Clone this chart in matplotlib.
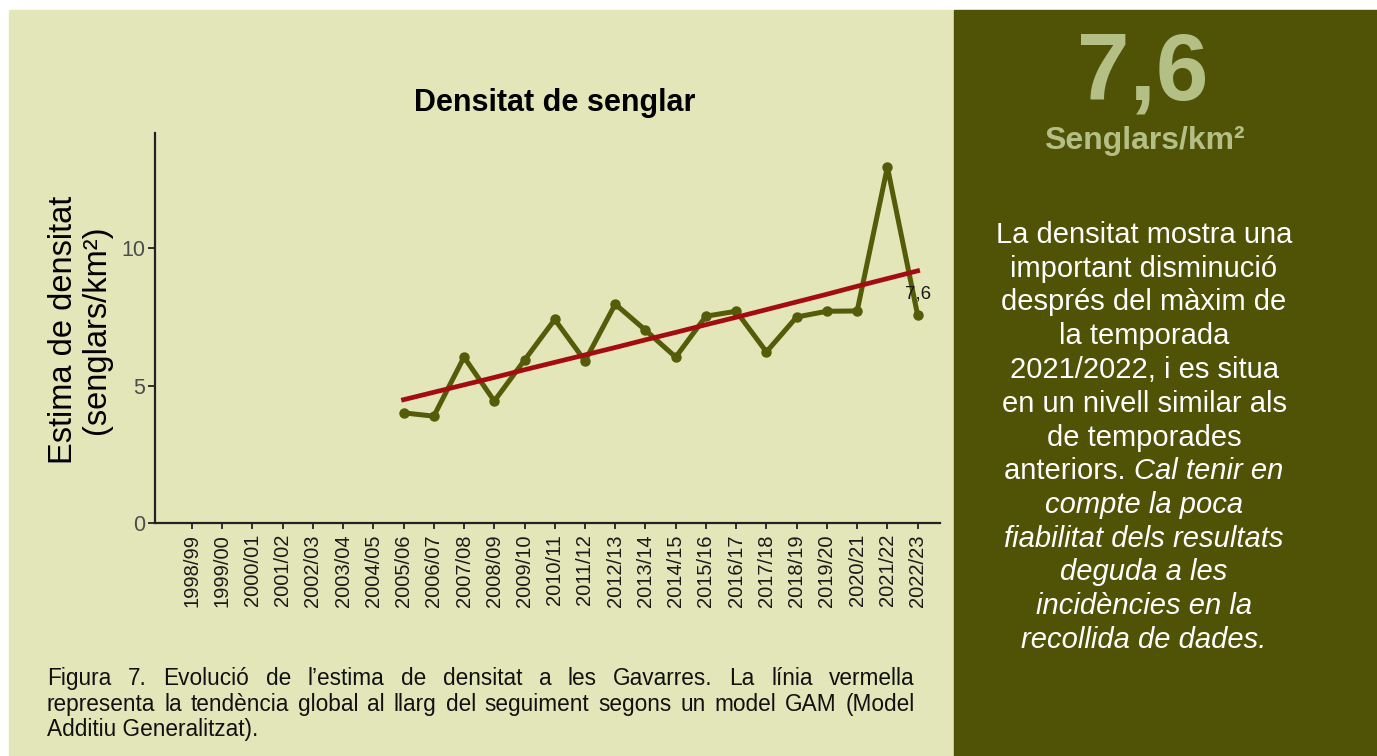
import numpy as np
import matplotlib.pyplot as plt
from matplotlib.patches import Rectangle

plt.rcParams['font.family'] = ['Liberation Sans', 'DejaVu Sans']

# temporades (eix x)
seasons = ['1998/99', '1999/00', '2000/01', '2001/02', '2002/03', '2003/04',
           '2004/05', '2005/06', '2006/07', '2007/08', '2008/09', '2009/10',
           '2010/11', '2011/12', '2012/13', '2013/14', '2014/15', '2015/16',
           '2016/17', '2017/18', '2018/19', '2019/20', '2020/21', '2021/22',
           '2022/23']
# densitat estimada (des de 2005/06)
data_seasons = seasons[7:]
density = [4.01, 3.89, 6.04, 4.44, 5.93, 7.41, 5.90, 7.97, 7.02, 6.04,
           7.53, 7.71, 6.23, 7.50, 7.71, 7.72, 12.96, 7.57]
# tendencia GAM
trend = [4.49, 4.76, 5.03, 5.30, 5.58, 5.85, 6.12, 6.39, 6.67, 6.94,
         7.22, 7.49, 7.77, 8.05, 8.33, 8.62, 8.90, 9.18]
last_label = '7,6'

LIGHT = '#e3e6b9'
DARK = '#505205'
OLIVE = '#555c09'
RED = '#a30d12'

W, H = 1377, 756
fig = plt.figure(figsize=(W / 100, H / 100), dpi=100, facecolor='white')

# panells de fons
fig.add_artist(Rectangle((9 / W, 0), (954 - 9) / W, (H - 10) / H,
                         transform=fig.transFigure, color=LIGHT, zorder=0))
fig.add_artist(Rectangle((954 / W, 0), (W - 954) / W, (H - 10) / H,
                         transform=fig.transFigure, color=DARK, zorder=0))

ax = fig.add_axes([155 / W, 1 - 523 / H, (940 - 155) / W, (523 - 133) / H])
ax.set_zorder(1)
ax.patch.set_alpha(0)

x_all = np.arange(len(seasons))
x_data = np.array([seasons.index(s) for s in data_seasons])

ax.plot(x_data, density, color=OLIVE, lw=3.6, marker='o', ms=6.5,
        solid_joinstyle='round', solid_capstyle='round')
ax.plot(x_data, trend, color=RED, lw=3.4)
ax.annotate(last_label, (x_data[-1], density[-1]), xytext=(0, 15),
            textcoords='offset points', ha='center', va='center',
            fontsize=13.5, color='#1a1a1a')

ax.set_xlim(-1.22, 24.74)
ax.set_ylim(0, 14.2)
ax.set_xticks(x_all)
ax.set_xticklabels(seasons, rotation=90, fontsize=14.5, color='#1a1a1a')
ax.set_yticks([0, 5, 10])
ax.tick_params(axis='y', labelsize=15.5, labelcolor='#4d4d4d', length=5,
               width=1.3, color='#222222', pad=2)
ax.tick_params(axis='x', length=4, width=1.3, color='#222222', pad=4)
for s in ['top', 'right']:
    ax.spines[s].set_visible(False)
for s in ['left', 'bottom']:
    ax.spines[s].set_linewidth(1.6)
    ax.spines[s].set_color('#222222')

fig.text(80 / W, 1 - 330 / H, 'Estima de densitat\n(senglars/km²)',
         rotation=90, ha='center', va='center', fontsize=23.5,
         linespacing=1.05, color='black')
fig.text(555 / W, 1 - 103 / H, 'Densitat de senglar', ha='center',
         va='center', fontsize=22, fontweight='bold', color='black')

renderer = fig.canvas.get_renderer()


def text_width(s, **kw):
    t = fig.text(0, 0, s, **kw)
    w = t.get_window_extent(renderer).width
    t.remove()
    return w


def justified(line, y_px, x0=47, x1=915, **kw):
    words = line.split(' ')
    widths = [text_width(w, **kw) for w in words]
    gap = (x1 - x0 - sum(widths)) / (len(words) - 1)
    xpos = x0
    for w, wd in zip(words, widths):
        fig.text(xpos / W, 1 - y_px / H, w, ha='left', va='baseline', **kw)
        xpos += wd + gap


# peu de figura
cap_kw = dict(fontsize=16.3, color='#111111')
justified('Figura 7. Evolució de l’estima de densitat a les Gavarres. La línia vermella',
          685, **cap_kw)
justified('representa la tendència global al llarg del seguiment segons un model GAM (Model',
          711, **cap_kw)
fig.text(47 / W, 1 - 736 / H, 'Additiu Generalitzat).', ha='left',
         va='baseline', **cap_kw)

# panell dret
fig.text(1143 / W, 1 - 100 / H, '7,6', ha='center', va='baseline',
         fontsize=68, fontweight='bold', color='#b4bf85')
fig.text(1144 / W, 1 - 149 / H, 'Senglars/km²', ha='center', va='baseline',
         fontsize=23, fontweight='bold', color='#b4bf85')

body = [('La densitat mostra una', ''),
        ('important disminució', ''),
        ('després del màxim de', ''),
        ('la temporada', ''),
        ('2021/2022, i es situa', ''),
        ('en un nivell similar als', ''),
        ('de temporades', ''),
        ('anteriors.', 'Cal tenir en'),
        ('', 'compte la poca'),
        ('', 'fiabilitat dels resultats'),
        ('', 'deguda a les'),
        ('', 'incidències en la'),
        ('', 'recollida de dades.')]
body_kw = dict(fontsize=21, color='white')
for i, (normal, italic) in enumerate(body):
    y = 1 - (243 + i * 33.75) / H
    if normal and italic:
        w1 = text_width(normal + ' ', **body_kw)
        w2 = text_width(italic, style='italic', **body_kw)
        x0 = 1144 - (w1 + w2) / 2
        fig.text(x0 / W, y, normal + ' ', ha='left', va='baseline', **body_kw)
        fig.text((x0 + w1) / W, y, italic, ha='left', va='baseline',
                 style='italic', **body_kw)
    elif normal:
        fig.text(1144 / W, y, normal, ha='center', va='baseline', **body_kw)
    else:
        fig.text(1144 / W, y, italic, ha='center', va='baseline',
                 style='italic', **body_kw)

fig.savefig('out.png', dpi=100, facecolor='white')
